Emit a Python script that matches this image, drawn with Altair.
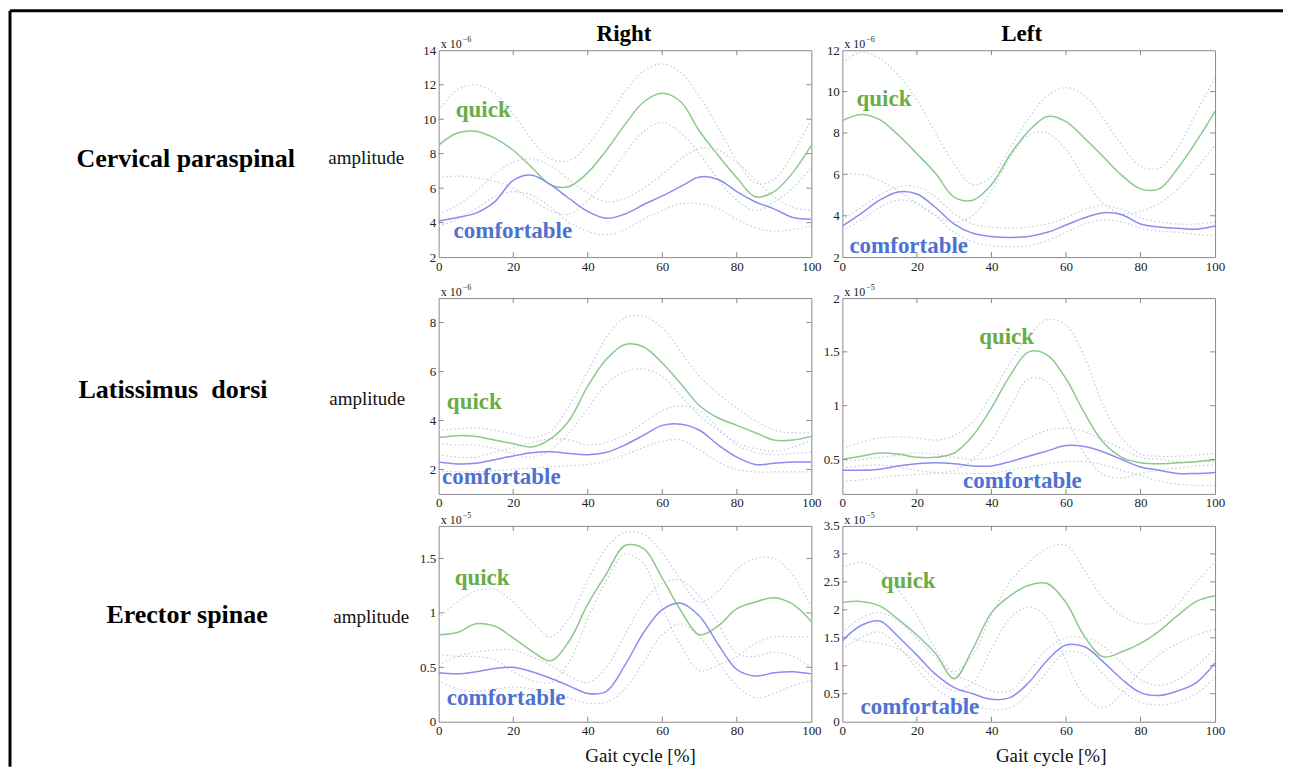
import altair as alt
import pandas as pd

SERIF = "Liberation Serif"
GREEN_LINE = "#8cc98c"
BLUE_LINE = "#8a8cf2"
GREEN_TEXT = "#6aac46"
BLUE_TEXT = "#4d72d2"
SD_COLOR = "#c4c9de"
BOX = "#8a8a8a"

ROWS = ["Cervical paraspinal", "Latissimus\u00a0 dorsi", "Erector spinae"]
COLS = ["Right", "Left"]
YLABEL = "amplitude"
XLABEL = "Gait cycle [%]"
SERIES = ["quick", "comfortable"]

PCT = [0, 5, 10, 15, 20, 25, 30, 35, 40, 45, 50, 55, 60, 65, 70, 75, 80, 85, 90, 95, 100]
XTICKS = [0, 20, 40, 60, 80, 100]

# ---- Cervical paraspinal, Right (x 10^-6)
CP_R_q = [8.5, 9.2, 9.3, 8.9, 8.2, 7.2, 6.2, 6.1, 6.9, 8.2, 9.7, 11.0, 11.5, 11.0, 9.3, 7.9, 6.6, 5.5, 5.8, 6.9, 8.5]
CP_R_qh = [10.5, 11.7, 12.0, 11.5, 10.3, 8.8, 7.7, 7.6, 8.5, 10.0, 11.6, 12.8, 13.2, 12.7, 11.3, 9.5, 7.6, 6.3, 6.5, 8.0, 10.0]
CP_R_ql = [6.6, 6.7, 6.6, 6.4, 6.0, 5.3, 4.7, 4.5, 5.3, 6.5, 8.0, 9.3, 9.8, 9.2, 8.0, 6.5, 5.3, 4.7, 5.2, 6.0, 7.2]
CP_R_c = [4.1, 4.3, 4.55, 5.2, 6.45, 6.75, 6.2, 5.4, 4.65, 4.25, 4.5, 5.05, 5.55, 6.1, 6.65, 6.5, 5.8, 5.2, 4.8, 4.3, 4.2]
CP_R_ch = [4.5, 5.0, 5.8, 6.8, 7.5, 7.7, 7.3, 6.5, 5.7, 5.2, 5.4, 6.0, 6.8, 7.7, 8.3, 8.2, 7.5, 6.5, 5.5, 4.9, 4.7]
CP_R_cl = [3.8, 4.2, 4.8, 5.5, 5.8, 5.6, 4.9, 4.0, 3.5, 3.3, 3.6, 4.2, 4.7, 5.1, 5.1, 4.8, 4.2, 3.7, 3.5, 3.6, 3.8]
CP_R_dom = [2, 14]
CP_R_ticks = [2, 4, 6, 8, 10, 12, 14]

# ---- Cervical paraspinal, Left (x 10^-6)
CP_L_q = [8.6, 8.9, 8.65, 7.9, 7.0, 6.05, 4.9, 4.75, 5.5, 6.95, 8.1, 8.8, 8.55, 7.75, 6.85, 5.95, 5.3, 5.3, 6.3, 7.6, 9.05]
CP_L_qh = [11.4, 11.9, 11.6, 10.8, 9.6, 8.0, 6.5, 5.5, 5.9, 7.3, 8.7, 9.8, 10.2, 9.8, 8.7, 7.4, 6.4, 6.3, 7.3, 9.0, 10.7]
CP_L_ql = [6.0, 6.0, 5.7, 5.2, 4.6, 4.0, 3.7, 4.0, 5.2, 6.8, 7.9, 8.0, 7.2, 5.8, 4.6, 4.1, 4.2, 4.6, 5.3, 6.3, 7.4]
CP_L_c = [3.5, 4.1, 4.75, 5.15, 5.05, 4.4, 3.6, 3.15, 3.0, 2.95, 3.0, 3.2, 3.55, 3.9, 4.15, 4.05, 3.6, 3.45, 3.4, 3.35, 3.5]
CP_L_ch = [3.8, 4.4, 5.0, 5.4, 5.4, 4.9, 4.1, 3.6, 3.45, 3.4, 3.45, 3.6, 3.9, 4.3, 4.5, 4.3, 3.9, 3.7, 3.6, 3.6, 3.7]
CP_L_cl = [3.3, 3.8, 4.4, 4.75, 4.6, 4.0, 3.2, 2.75, 2.55, 2.5, 2.55, 2.8, 3.2, 3.6, 3.8, 3.7, 3.4, 3.25, 3.2, 3.1, 3.05]
CP_L_dom = [2, 12]
CP_L_ticks = [2, 4, 6, 8, 10, 12]

# ---- Latissimus dorsi, Right (x 10^-6)
LD_R_q = [3.3, 3.38, 3.35, 3.2, 3.05, 2.92, 3.25, 4.0, 5.4, 6.5, 7.1, 7.0, 6.35, 5.5, 4.6, 4.1, 3.8, 3.5, 3.2, 3.2, 3.35]
LD_R_qh = [3.6, 3.65, 3.7, 3.6, 3.45, 3.3, 3.55, 4.6, 6.0, 7.4, 8.2, 8.25, 7.8, 6.8, 5.8, 5.1, 4.5, 4.0, 3.6, 3.5, 3.5]
LD_R_ql = [3.05, 3.0, 3.0, 2.85, 2.65, 2.5, 2.8, 3.5, 4.5, 5.5, 6.0, 6.1, 5.8, 5.0, 4.2, 3.6, 3.1, 2.85, 2.75, 2.9, 3.2]
LD_R_c = [2.3, 2.22, 2.25, 2.4, 2.55, 2.68, 2.72, 2.65, 2.6, 2.7, 3.0, 3.4, 3.8, 3.85, 3.6, 3.0, 2.5, 2.2, 2.25, 2.3, 2.3]
LD_R_ch = [2.6, 2.5, 2.5, 2.7, 2.9, 3.1, 3.25, 3.2, 3.0, 3.1, 3.4, 3.9, 4.4, 4.6, 4.4, 3.7, 3.0, 2.7, 2.6, 2.65, 2.7]
LD_R_cl = [1.95, 1.9, 1.9, 1.95, 2.0, 2.05, 2.1, 2.15, 2.2, 2.35, 2.6, 2.9, 3.15, 3.2, 2.8, 2.3, 2.0, 1.9, 1.9, 1.9, 1.9]
LD_R_dom = [1, 9]
LD_R_ticks = [2, 4, 6, 8]

# ---- Latissimus dorsi, Left (x 10^-5)
LD_L_q = [0.5, 0.53, 0.56, 0.55, 0.52, 0.52, 0.56, 0.72, 0.98, 1.28, 1.5, 1.47, 1.25, 0.93, 0.66, 0.52, 0.47, 0.46, 0.47, 0.48, 0.5]
LD_L_qh = [0.6, 0.66, 0.7, 0.71, 0.7, 0.68, 0.72, 0.85, 1.1, 1.4, 1.65, 1.8, 1.75, 1.45, 1.0, 0.7, 0.55, 0.53, 0.53, 0.54, 0.56]
LD_L_ql = [0.42, 0.44, 0.45, 0.43, 0.4, 0.38, 0.4, 0.5, 0.68, 0.98, 1.25, 1.22, 0.9, 0.55, 0.36, 0.33, 0.37, 0.4, 0.42, 0.44, 0.45]
LD_L_c = [0.4, 0.4, 0.41, 0.44, 0.46, 0.47, 0.46, 0.44, 0.44, 0.48, 0.53, 0.58, 0.63, 0.62, 0.57, 0.5, 0.43, 0.4, 0.37, 0.37, 0.38]
LD_L_ch = [0.48, 0.5, 0.52, 0.54, 0.56, 0.55, 0.52, 0.5, 0.52, 0.6, 0.7, 0.77, 0.79, 0.76, 0.68, 0.6, 0.52, 0.5, 0.48, 0.48, 0.48]
LD_L_cl = [0.3, 0.31, 0.33, 0.35, 0.36, 0.37, 0.37, 0.37, 0.37, 0.4, 0.43, 0.46, 0.48, 0.48, 0.45, 0.4, 0.35, 0.3, 0.27, 0.26, 0.26]
LD_L_dom = [0.18, 2]
LD_L_ticks = [0.5, 1, 1.5, 2]

# ---- Erector spinae, Right (x 10^-5)
ES_R_q = [0.8, 0.82, 0.9, 0.88, 0.77, 0.65, 0.56, 0.74, 1.08, 1.36, 1.62, 1.59, 1.32, 1.02, 0.8, 0.88, 1.04, 1.1, 1.14, 1.08, 0.92]
ES_R_qh = [0.95, 1.1, 1.2, 1.22, 1.1, 0.92, 0.78, 0.95, 1.3, 1.6, 1.74, 1.72, 1.55, 1.3, 1.1, 1.2, 1.4, 1.5, 1.5, 1.35, 1.05]
ES_R_ql = [0.62, 0.6, 0.6, 0.57, 0.46, 0.38, 0.36, 0.55, 0.95, 1.3, 1.54, 1.45, 1.05, 0.7, 0.47, 0.52, 0.6, 0.72, 0.78, 0.78, 0.78]
ES_R_c = [0.45, 0.44, 0.46, 0.49, 0.5, 0.46, 0.4, 0.33, 0.26, 0.28, 0.52, 0.82, 1.03, 1.09, 0.97, 0.71, 0.48, 0.42, 0.45, 0.46, 0.44]
ES_R_ch = [0.52, 0.6, 0.64, 0.66, 0.66, 0.6, 0.52, 0.42, 0.36, 0.5, 0.8, 1.1, 1.27, 1.3, 1.15, 0.9, 0.63, 0.6, 0.64, 0.6, 0.5]
ES_R_cl = [0.38, 0.3, 0.28, 0.3, 0.32, 0.3, 0.27, 0.22, 0.17, 0.18, 0.3, 0.55, 0.8, 0.9, 0.78, 0.55, 0.33, 0.22, 0.26, 0.33, 0.38]
ES_R_dom = [0, 1.8]
ES_R_ticks = [0, 0.5, 1, 1.5]

# ---- Erector spinae, Left (x 10^-5)
ES_L_q = [2.13, 2.15, 2.07, 1.83, 1.55, 1.22, 0.77, 1.3, 1.95, 2.25, 2.44, 2.47, 2.13, 1.52, 1.16, 1.25, 1.4, 1.62, 1.9, 2.15, 2.25]
ES_L_qh = [2.75, 2.85, 2.7, 2.35, 1.9, 1.3, 0.9, 1.2, 1.9, 2.5, 2.85, 3.1, 3.15, 2.7, 2.2, 1.9, 1.75, 1.8, 2.1, 2.5, 2.85]
ES_L_ql = [1.55, 1.45, 1.4, 1.3, 1.05, 0.75, 0.55, 0.7, 1.3, 1.85, 2.05, 1.85, 1.1, 0.45, 0.25, 0.5, 0.9, 1.2, 1.4, 1.55, 1.65]
ES_L_c = [1.45, 1.72, 1.8, 1.52, 1.19, 0.85, 0.61, 0.5, 0.4, 0.43, 0.7, 1.1, 1.37, 1.34, 1.07, 0.76, 0.52, 0.47, 0.55, 0.7, 1.05]
ES_L_ch = [1.6, 1.85, 1.95, 1.8, 1.5, 1.15, 0.85, 0.7, 0.55, 0.55, 0.9, 1.3, 1.5, 1.5, 1.35, 1.05, 0.75, 0.65, 0.75, 1.0, 1.3]
ES_L_cl = [1.3, 1.5, 1.6, 1.35, 0.95, 0.6, 0.4, 0.3, 0.22, 0.25, 0.5, 0.9, 1.25, 1.2, 0.85, 0.55, 0.35, 0.3, 0.35, 0.5, 0.8]
ES_L_dom = [0, 3.5]
ES_L_ticks = [0, 0.5, 1, 1.5, 2, 2.5, 3, 3.5]

EXP6 = "\u22126"
EXP5 = "\u22125"

DUMMY = pd.DataFrame({"d": [0]})

W_LABEL = 398
W_PLOT = 373
H_ROW1 = 207
H_ROW = 196
CURVE = "catmull-rom"


def panel(q, qh, ql, c, ch, cl, ydom, yticks, w, h, exp, qpos, cpos,
          col_title=None, col_dx=0, xtitle=False, xtitle_dx=0):
    rows = []
    for name, kind, vals in [("quick", "mean", q), ("comfortable", "mean", c),
                             ("q_hi", "sd", qh), ("q_lo", "sd", ql),
                             ("c_hi", "sd", ch), ("c_lo", "sd", cl)]:
        for p, v in zip(PCT, vals):
            rows.append({"pct": p, "amp": v, "series": name, "kind": kind})
    df = pd.DataFrame(rows)

    xaxis = alt.Axis(values=XTICKS, tickCount=30, title=XLABEL if xtitle else None,
                     titleX=w / 2 + xtitle_dx, titleAlign="center", titlePadding=9,
                     labelOverlap=False, labelFlush=False)
    yaxis = alt.Axis(values=yticks, tickCount=30, format="~g", title=None,
                     labelOverlap=False, labelFlush=False)
    xs = alt.Scale(domain=[0, 100], nice=False)
    ys = alt.Scale(domain=ydom, nice=False, zero=False)

    def X(f):
        return alt.X(f, type="quantitative", scale=xs, axis=xaxis)

    def Y(f):
        return alt.Y(f, type="quantitative", scale=ys, axis=yaxis)

    base = alt.Chart(df).encode(x=X("pct"), y=Y("amp"))
    sd = base.transform_filter(alt.datum.kind == "sd").mark_line(
        strokeDash=[1.5, 2.5], color=SD_COLOR, strokeWidth=1.2,
        interpolate=CURVE, clip=True).encode(detail="series:N")
    means = base.transform_filter(alt.datum.kind == "mean").mark_line(
        strokeWidth=1.5, interpolate=CURVE, clip=True).encode(
        color=alt.Color("series:N", scale=alt.Scale(domain=SERIES, range=[GREEN_LINE, BLUE_LINE]),
                        legend=None),
        detail="series:N")

    inner_x = [t for t in XTICKS if 0 < t < 100]
    inner_y = [t for t in yticks if ydom[0] < t < ydom[1]]
    tx = alt.Chart(pd.DataFrame({"pct": inner_x}))
    ty = alt.Chart(pd.DataFrame({"amp": inner_y}))
    tick_layers = [
        tx.mark_rule(color=BOX, strokeWidth=1).encode(x=X("pct"), y=alt.value(h), y2=alt.value(h - 5)),
        tx.mark_rule(color=BOX, strokeWidth=1).encode(x=X("pct"), y=alt.value(0), y2=alt.value(5)),
        ty.mark_rule(color=BOX, strokeWidth=1).encode(y=Y("amp"), x=alt.value(0), x2=alt.value(5)),
        ty.mark_rule(color=BOX, strokeWidth=1).encode(y=Y("amp"), x=alt.value(w), x2=alt.value(w - 5)),
    ]

    d = alt.Chart(DUMMY)
    lab_q = d.mark_text(font=SERIF, fontSize=23, fontWeight="bold", color=GREEN_TEXT,
                        align="left", baseline="middle").encode(
        x=alt.datum(qpos[0]), y=alt.datum(qpos[1]), text=alt.value(SERIES[0]))
    lab_c = d.mark_text(font=SERIF, fontSize=23, fontWeight="bold", color=BLUE_TEXT,
                        align="left", baseline="middle").encode(
        x=alt.datum(cpos[0]), y=alt.datum(cpos[1]), text=alt.value(SERIES[1]))
    exp_base = d.mark_text(font=SERIF, fontSize=12, color="#222", align="left",
                           baseline="alphabetic").encode(
        x=alt.value(2), y=alt.value(-2), text=alt.value("x 10"))
    exp_sup = d.mark_text(font=SERIF, fontSize=8, color="#222", align="left",
                          baseline="alphabetic").encode(
        x=alt.value(24), y=alt.value(-8), text=alt.value(exp))

    layers = [sd, means] + tick_layers + [lab_q, lab_c, exp_base, exp_sup]
    if col_title:
        layers.append(d.mark_text(font=SERIF, fontSize=23, fontWeight="bold", color="black",
                                  align="center", baseline="middle").encode(
            x=alt.value(w / 2 + col_dx), y=alt.value(-16), text=alt.value(col_title)))
    return alt.layer(*layers).properties(width=w, height=h,
                                         view=alt.ViewBackground(stroke=BOX, strokeWidth=1))


def label_panel(name, name_x, name_y, amp_x, amp_y, w, h, frame=False):
    d = alt.Chart(DUMMY)
    layers = [
        d.mark_text(font=SERIF, fontSize=26, fontWeight="bold", color="black",
                    align="left", baseline="middle").encode(
            x=alt.value(name_x), y=alt.value(name_y), text=alt.value(name)),
        d.mark_text(font=SERIF, fontSize=19, color="#111",
                    align="right", baseline="middle").encode(
            x=alt.value(amp_x), y=alt.value(amp_y), text=alt.value(YLABEL)),
    ]
    if frame:
        layers.append(d.mark_rule(color="black", strokeWidth=3).encode(
            x=alt.value(0), x2=alt.value(1274), y=alt.value(-39.5)))
        layers.append(d.mark_rule(color="black", strokeWidth=3).encode(
            x=alt.value(0), y=alt.value(-39.5), y2=alt.value(717)))
    return alt.layer(*layers).properties(width=w, height=h,
                                         view=alt.ViewBackground(stroke="transparent"))


cells = [
    label_panel(ROWS[0], 66.5, 109, 394.5, 108, W_LABEL, H_ROW1 + 9, frame=True),
    panel(CP_R_q, CP_R_qh, CP_R_ql, CP_R_c, CP_R_ch, CP_R_cl, CP_R_dom, CP_R_ticks,
          W_PLOT, H_ROW1, EXP6, (4.6, 10.56), (4.0, 3.52), col_title=COLS[0], col_dx=-1),
    panel(CP_L_q, CP_L_qh, CP_L_ql, CP_L_c, CP_L_ch, CP_L_cl, CP_L_dom, CP_L_ticks,
          W_PLOT, H_ROW1, EXP6, (3.8, 9.62), (1.9, 2.53), col_title=COLS[1], col_dx=-7),

    label_panel(ROWS[1], 68.5, 92, 395.5, 101, W_LABEL, H_ROW),
    panel(LD_R_q, LD_R_qh, LD_R_ql, LD_R_c, LD_R_ch, LD_R_cl, LD_R_dom, LD_R_ticks,
          W_PLOT, H_ROW, EXP6, (2.2, 4.74), (0.9, 1.7)),
    panel(LD_L_q, LD_L_qh, LD_L_ql, LD_L_c, LD_L_ch, LD_L_cl, LD_L_dom, LD_L_ticks,
          W_PLOT, H_ROW, EXP5, (36.7, 1.64), (32.4, 0.30)),

    label_panel(ROWS[2], 96.5, 89, 399.5, 91, W_LABEL, H_ROW),
    panel(ES_R_q, ES_R_qh, ES_R_ql, ES_R_c, ES_R_ch, ES_R_cl, ES_R_dom, ES_R_ticks,
          W_PLOT, H_ROW, EXP5, (4.3, 1.32), (2.2, 0.22), xtitle=True, xtitle_dx=15),
    panel(ES_L_q, ES_L_qh, ES_L_ql, ES_L_c, ES_L_ch, ES_L_cl, ES_L_dom, ES_L_ticks,
          W_PLOT, H_ROW, EXP5, (10.3, 2.51), (4.9, 0.27), xtitle=True, xtitle_dx=22),
]

chart = alt.concat(
    *cells, columns=3, bounds="flush",
    spacing=alt.RowColnumber(row=32, column=31),
).properties(padding=0, background="white").configure_axis(
    labelFont=SERIF, labelFontSize=13, labelColor="#222", labelPadding=3,
    titleFont=SERIF, titleFontSize=19, titleFontWeight="normal", titleColor="#111",
    domain=False, ticks=False, grid=False,
).configure_view(stroke="transparent")

chart.save("out.html", embed_options={"renderer": "svg", "actions": False})
